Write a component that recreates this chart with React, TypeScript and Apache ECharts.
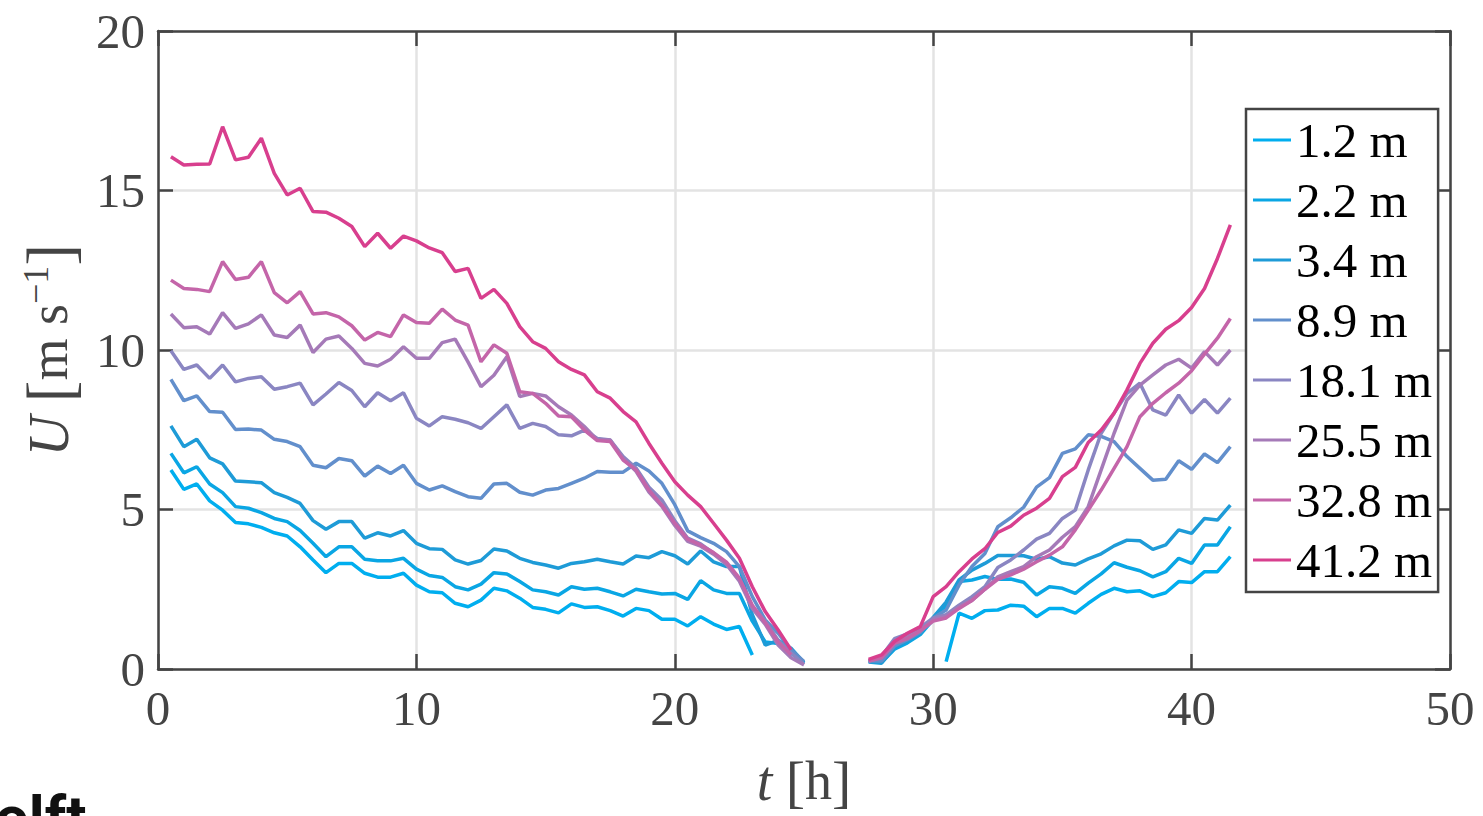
import React, { useEffect, useRef } from "react";
import * as echarts from "echarts";

// time axis [h]
const hoursSeg1 = [0.5, 1, 1.5, 2, 2.5, 3, 3.5, 4, 4.5, 5, 5.5, 6, 6.5, 7, 7.5, 8, 8.5, 9, 9.5, 10, 10.5, 11, 11.5, 12, 12.5, 13, 13.5, 14, 14.5, 15, 15.5, 16, 16.5, 17, 17.5, 18, 18.5, 19, 19.5, 20, 20.5, 21, 21.5, 22, 22.5, 23, 23.5, 24, 24.5, 25];
const hoursSeg2 = [27.5, 28, 28.5, 29, 29.5, 30, 30.5, 31, 31.5, 32, 32.5, 33, 33.5, 34, 34.5, 35, 35.5, 36, 36.5, 37, 37.5, 38, 38.5, 39, 39.5, 40, 40.5, 41, 41.5];

const heights = ["1.2 m", "2.2 m", "3.4 m", "8.9 m", "18.1 m", "25.5 m", "32.8 m", "41.2 m"];
const colors = ["#00AEEF", "#0AA6E4", "#1E9BD7", "#628FCC", "#8A86C2", "#A57AB8", "#C465A9", "#D83F8E"];

const u12a = [6.24, 5.63, 5.8, 5.27, 4.98, 4.59, 4.55, 4.44, 4.27, 4.17, 3.83, 3.42, 3.02, 3.31, 3.31, 3.0, 2.88, 2.88, 3.0, 2.63, 2.42, 2.39, 2.06, 1.95, 2.16, 2.53, 2.45, 2.22, 1.93, 1.87, 1.76, 2.04, 1.93, 1.95, 1.83, 1.66, 1.9, 1.83, 1.56, 1.56, 1.35, 1.64, 1.41, 1.24, 1.33, 0.44, null, null, null, null];
const u12b = [null, null, null, null, null, null, 0.23, 1.75, 1.59, 1.83, 1.85, 2.0, 1.97, 1.64, 1.9, 1.9, 1.75, 2.06, 2.34, 2.53, 2.42, 2.45, 2.27, 2.39, 2.74, 2.71, 3.05, 3.05, 3.52];

const u22a = [6.76, 6.15, 6.34, 5.8, 5.53, 5.09, 5.04, 4.9, 4.72, 4.62, 4.34, 3.94, 3.52, 3.83, 3.83, 3.44, 3.39, 3.39, 3.47, 3.13, 2.93, 2.87, 2.58, 2.48, 2.66, 3.02, 2.98, 2.74, 2.48, 2.42, 2.32, 2.58, 2.5, 2.53, 2.42, 2.29, 2.5, 2.42, 2.35, 2.37, 2.18, 2.77, 2.48, 2.37, 2.37, 1.5, 0.85, 0.8, 0.5, 0.18];
const u22b = [0.25, 0.2, 0.62, 0.82, 1.08, 1.55, 2.0, 2.74, 2.79, 2.9, 2.81, 2.82, 2.72, 2.32, 2.58, 2.53, 2.37, 2.69, 2.98, 3.33, 3.19, 3.08, 2.89, 3.05, 3.47, 3.31, 3.89, 3.89, 4.46];

const u34a = [7.62, 6.97, 7.2, 6.62, 6.43, 5.89, 5.87, 5.84, 5.53, 5.38, 5.19, 4.65, 4.38, 4.62, 4.62, 4.1, 4.27, 4.17, 4.34, 3.94, 3.77, 3.75, 3.42, 3.29, 3.4, 3.76, 3.7, 3.47, 3.34, 3.26, 3.16, 3.31, 3.36, 3.44, 3.36, 3.29, 3.54, 3.49, 3.68, 3.55, 3.29, 3.7, 3.36, 3.21, 3.21, 1.7, 0.75, 0.9, 0.65, 0.2];
const u34b = [0.22, 0.18, 0.68, 0.88, 1.12, 1.62, 2.1, 2.79, 3.1, 3.31, 3.56, 3.56, 3.55, 3.44, 3.52, 3.32, 3.26, 3.45, 3.61, 3.86, 4.04, 4.02, 3.75, 3.89, 4.36, 4.25, 4.72, 4.67, 5.14];

const u89a = [9.08, 8.41, 8.56, 8.07, 8.05, 7.51, 7.52, 7.49, 7.2, 7.13, 6.97, 6.39, 6.31, 6.6, 6.53, 6.05, 6.36, 6.13, 6.39, 5.82, 5.61, 5.74, 5.56, 5.4, 5.35, 5.8, 5.82, 5.54, 5.45, 5.61, 5.66, 5.82, 5.98, 6.19, 6.17, 6.17, 6.45, 6.21, 5.82, 5.15, 4.33, 4.12, 3.94, 3.68, 3.21, 2.27, 1.54, 1.12, 0.6, 0.23];
const u89b = [0.25, 0.25, 0.72, 0.92, 1.15, 1.6, 1.85, 2.63, 3.21, 3.62, 4.46, 4.74, 5.07, 5.7, 6.0, 6.76, 6.9, 7.34, 7.29, 7.13, 6.66, 6.29, 5.92, 5.95, 6.53, 6.26, 6.74, 6.47, 6.97];

const u181a = [9.98, 9.39, 9.53, 9.11, 9.53, 9.0, 9.11, 9.16, 8.77, 8.85, 8.96, 8.28, 8.62, 8.98, 8.73, 8.22, 8.66, 8.41, 8.66, 7.86, 7.62, 7.91, 7.83, 7.72, 7.54, 7.91, 8.28, 7.54, 7.7, 7.6, 7.34, 7.31, 7.49, 7.23, 7.18, 6.66, 6.3, 5.7, 5.3, 4.65, 4.1, 3.92, 3.63, 3.3, 2.8, 1.95, 1.5, 0.9, 0.5, 0.15];
const u181b = [0.25, 0.4, 0.95, 1.1, 1.3, 1.6, 1.7, 2.0, 2.27, 2.58, 3.18, 3.42, 3.73, 4.07, 4.25, 4.72, 4.98, 6.24, 7.39, 8.02, 8.64, 8.96, 8.12, 7.96, 8.59, 8.02, 8.45, 8.02, 8.49];

const u255a = [11.13, 10.7, 10.73, 10.5, 11.17, 10.68, 10.82, 11.1, 10.47, 10.39, 10.78, 9.92, 10.34, 10.44, 10.05, 9.58, 9.5, 9.71, 10.1, 9.74, 9.74, 10.23, 10.34, 9.62, 8.85, 9.21, 9.79, 8.54, 8.64, 8.56, 8.22, 7.96, 7.6, 7.18, 7.18, 6.6, 6.2, 5.55, 5.1, 4.5, 4.0, 3.85, 3.6, 3.28, 2.75, 1.9, 1.4, 0.75, 0.35, 0.13];
const u255b = [0.25, 0.35, 0.85, 1.0, 1.2, 1.55, 1.65, 1.95, 2.15, 2.5, 2.89, 3.05, 3.21, 3.52, 3.73, 4.13, 4.46, 5.09, 6.24, 7.39, 8.43, 8.9, 9.22, 9.53, 9.71, 9.43, 9.95, 9.53, 10.0];

const u328a = [12.19, 11.93, 11.9, 11.83, 12.77, 12.21, 12.28, 12.77, 11.8, 11.48, 11.83, 11.13, 11.17, 11.04, 10.76, 10.31, 10.55, 10.42, 11.1, 10.86, 10.84, 11.28, 10.94, 10.78, 9.63, 10.16, 9.9, 8.69, 8.64, 8.33, 7.93, 7.91, 7.49, 7.16, 7.13, 6.55, 6.24, 5.61, 5.14, 4.57, 4.07, 3.89, 3.65, 3.35, 2.85, 2.0, 1.45, 0.85, 0.45, null];
const u328b = [0.25, 0.35, 0.8, 0.95, 1.2, 1.5, 1.6, 1.9, 2.15, 2.5, 2.81, 2.95, 3.13, 3.36, 3.57, 3.83, 4.36, 4.98, 5.61, 6.29, 6.97, 7.91, 8.33, 8.66, 8.96, 9.35, 9.87, 10.37, 10.99];

const u412a = [16.06, 15.8, 15.82, 15.83, 17.0, 15.96, 16.04, 16.64, 15.54, 14.86, 15.07, 14.34, 14.32, 14.13, 13.87, 13.24, 13.66, 13.19, 13.57, 13.42, 13.2, 13.05, 12.46, 12.56, 11.62, 11.9, 11.46, 10.73, 10.26, 10.05, 9.63, 9.39, 9.22, 8.69, 8.49, 8.07, 7.75, 7.07, 6.45, 5.87, 5.45, 5.09, 4.57, 4.04, 3.47, 2.58, 1.8, 1.22, 0.6, null];
const u412b = [0.3, 0.44, 0.86, 1.12, 1.33, 2.27, 2.58, 3.05, 3.45, 3.77, 4.28, 4.48, 4.82, 5.04, 5.35, 6.03, 6.32, 7.1, 7.49, 8.02, 8.75, 9.58, 10.21, 10.65, 10.92, 11.33, 11.93, 12.87, 13.92];

const seriesFirst = [u12a, u22a, u34a, u89a, u181a, u255a, u328a, u412a];
const seriesSecond = [u12b, u22b, u34b, u89b, u181b, u255b, u328b, u412b];

const xTicks = [0, 10, 20, 30, 40, 50];
const yTicks = [0, 5, 10, 15, 20];

const FONT = "'Liberation Serif', 'DejaVu Serif', serif";
const AXIS_COLOR = "#444444";

function buildData(a: (number | null)[], b: (number | null)[]) {
  const out: (number | null)[][] = [];
  hoursSeg1.forEach((h, i) => out.push([h, a[i]]));
  out.push([26, null]);
  hoursSeg2.forEach((h, i) => out.push([h, b[i]]));
  return out;
}

function tick() {
  return { show: true, inside: true, length: 15, lineStyle: { color: AXIS_COLOR, width: 2.5 } };
}
function line() {
  return { show: true, onZero: false, lineStyle: { color: AXIS_COLOR, width: 2.5 } };
}
function nameRich(lh: number, br: number) {
  return {
    i: { fontStyle: "italic", fontSize: 56, fontFamily: FONT, color: AXIS_COLOR, lineHeight: lh },
    b: { fontSize: br, fontFamily: FONT, color: AXIS_COLOR, lineHeight: lh },
    n: { fontSize: 54, fontFamily: FONT, color: AXIS_COLOR, lineHeight: lh },
    s: { fontSize: 36, fontFamily: FONT, color: AXIS_COLOR, verticalAlign: "top", lineHeight: lh, padding: [2, 0, 0, 0] },
  };
}

export default function App() {
  const ref = useRef<HTMLDivElement>(null);
  useEffect(() => {
    if (!ref.current) return;
    const chart = echarts.init(ref.current, null, { renderer: "svg" });
    const option: any = {
      animation: false,
      backgroundColor: "#ffffff",
      grid: { left: 158, top: 31, width: 1292, height: 638, containLabel: false, outerBoundsMode: "none" },
      xAxis: [
        {
          type: "value",
          min: xTicks[0],
          max: xTicks[xTicks.length - 1],
          interval: 10,
          position: "bottom",
          axisLine: line(),
          axisTick: tick(),
          axisLabel: { color: AXIS_COLOR, fontSize: 49, fontFamily: FONT, margin: 15 },
          splitLine: { show: true, lineStyle: { color: "#e3e3e3", width: 2.5 } },
          name: "{i|t} {b|[}{n|h}{b|]}",
          nameLocation: "middle",
          nameGap: 84,
          nameTextStyle: { color: AXIS_COLOR, fontSize: 54, fontFamily: FONT, lineHeight: 56, rich: nameRich(56, 58) },
        },
        {
          type: "value",
          min: xTicks[0],
          max: xTicks[xTicks.length - 1],
          interval: 10,
          position: "top",
          axisLine: line(),
          axisTick: tick(),
          axisLabel: { show: false },
          splitLine: { show: false },
        },
      ],
      yAxis: [
        {
          type: "value",
          min: yTicks[0],
          max: yTicks[yTicks.length - 1],
          interval: 5,
          position: "left",
          axisLine: line(),
          axisTick: tick(),
          axisLabel: { color: AXIS_COLOR, fontSize: 49, fontFamily: FONT, margin: 13 },
          splitLine: { show: true, lineStyle: { color: "#e3e3e3", width: 2.5 } },
          name: "{i|U} {b|[}{n|m s}{s|−1}{b|]}",
          nameLocation: "middle",
          nameRotate: 90,
          nameGap: 76,
          nameTextStyle: { color: AXIS_COLOR, fontSize: 54, fontFamily: FONT, lineHeight: 66, rich: nameRich(66, 66) },
        },
        {
          type: "value",
          min: yTicks[0],
          max: yTicks[yTicks.length - 1],
          interval: 5,
          position: "right",
          axisLine: line(),
          axisTick: tick(),
          axisLabel: { show: false },
          splitLine: { show: false },
        },
      ],
      legend: {
        orient: "vertical",
        left: 1246,
        top: 109,
        padding: [6, 6, 7, 7],
        borderColor: AXIS_COLOR,
        borderWidth: 2.5,
        backgroundColor: "#ffffff",
        itemWidth: 38,
        itemHeight: 3,
        itemGap: 10,
        icon: "rect",
        data: heights,
        textStyle: { color: "#000000", fontSize: 49, fontFamily: FONT, lineHeight: 50, padding: [0, 0, 0, 0] },
      },
      graphic: [
        {
          type: "text",
          left: -5,
          top: 787,
          style: { text: "olft", fontSize: 60, fontWeight: "bold", fontFamily: "Roboto, 'Noto Sans', sans-serif", fill: "#111111" },
        },
      ],
      series: heights.map((name, k) => ({
        name,
        type: "line",
        xAxisIndex: 0,
        yAxisIndex: 0,
        data: buildData(seriesFirst[k], seriesSecond[k]),
        showSymbol: false,
        symbol: "none",
        connectNulls: false,
        color: colors[k],
        lineStyle: { color: colors[k], width: 3.5 },
        itemStyle: { color: colors[k] },
        z: 2 + k,
      })),
    };
    chart.setOption(option);
    return () => chart.dispose();
  }, []);
  return (
    <div
      ref={ref}
      style={{ position: "fixed", left: 0, top: 0, width: 1483, height: 816, background: "#ffffff" }}
    />
  );
}
